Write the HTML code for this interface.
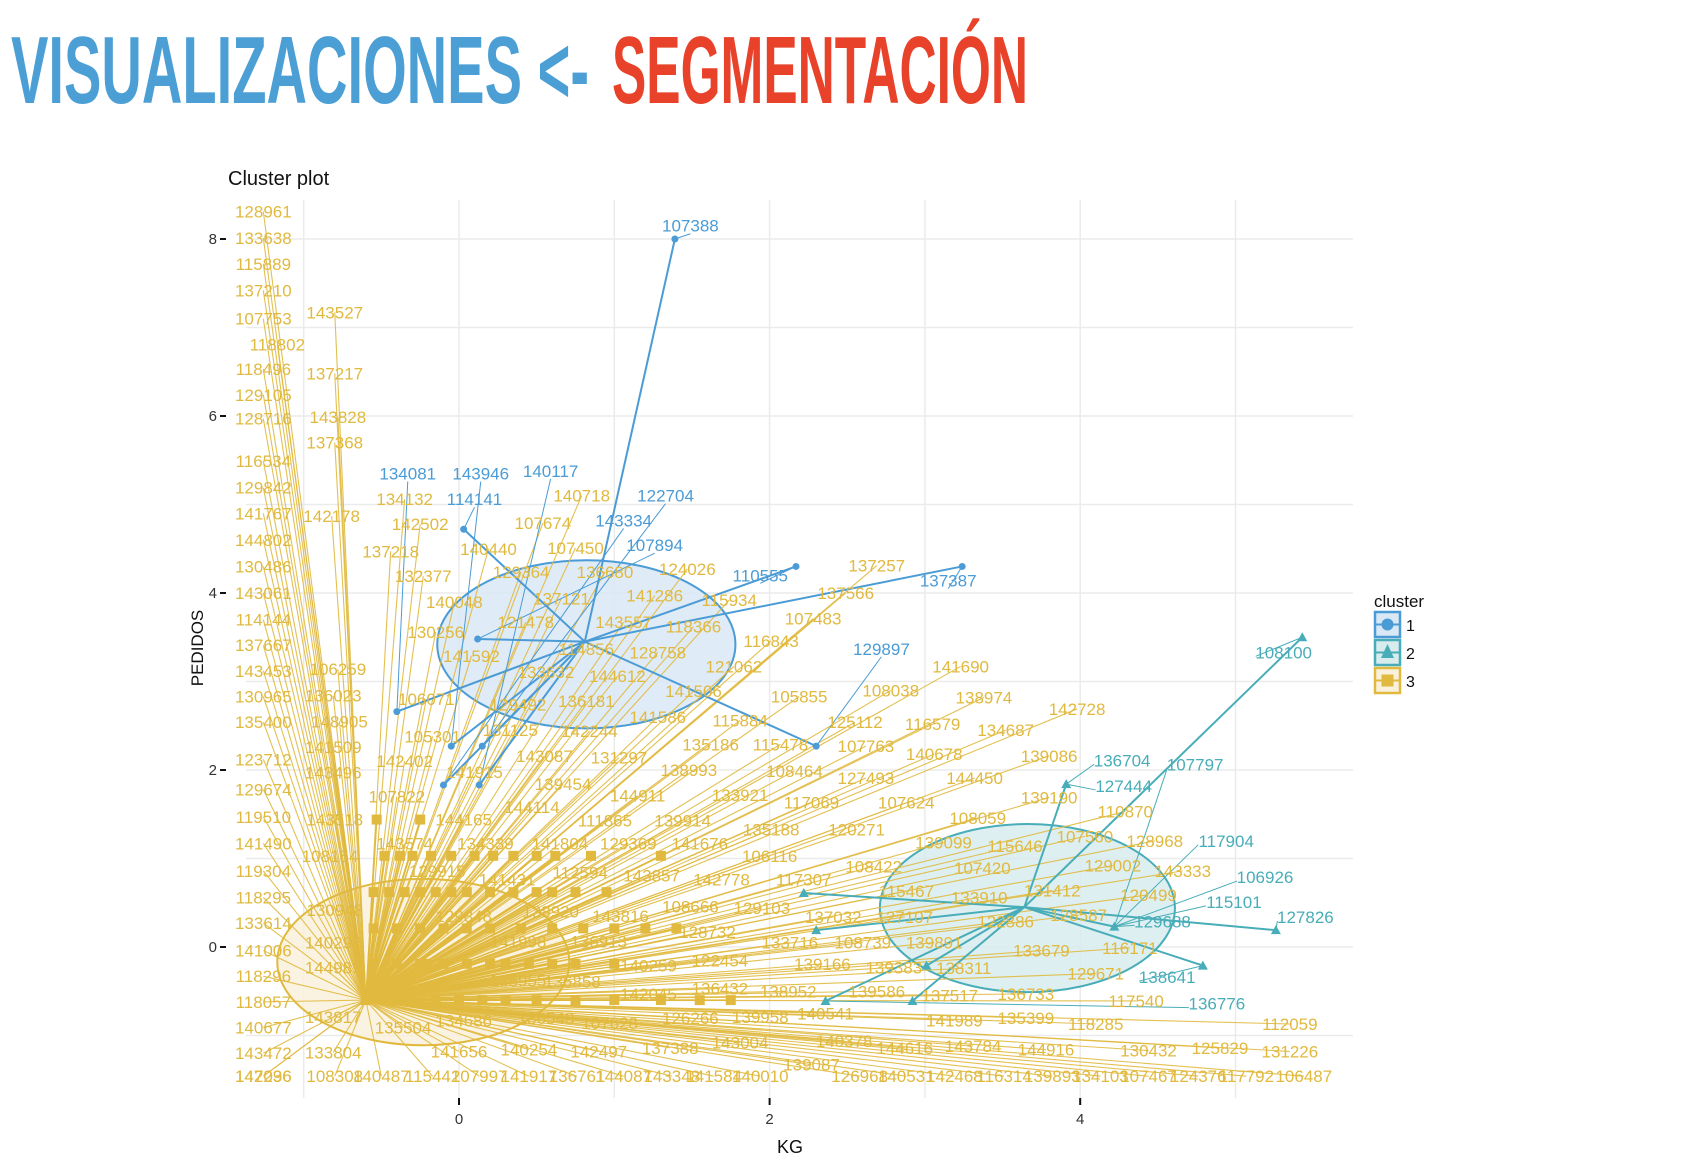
<!DOCTYPE html>
<html><head><meta charset="utf-8"><style>
html,body{margin:0;padding:0;background:#fff;}
svg{display:block;}
text{font-family:"Liberation Sans",sans-serif;}
</style></head><body>
<svg id="chart" width="1684" height="1168" viewBox="0 0 1684 1168" xmlns="http://www.w3.org/2000/svg">
<text x="11" y="103" font-family="'Liberation Sans Narrow','Liberation Sans',sans-serif" font-weight="bold" font-size="96" fill="#4B9FD5" textLength="578" lengthAdjust="spacingAndGlyphs">VISUALIZACIONES &lt;-</text>
<text x="612" y="103" font-family="'Liberation Sans Narrow','Liberation Sans',sans-serif" font-weight="bold" font-size="96" fill="#E8432A" textLength="416" lengthAdjust="spacingAndGlyphs">SEGMENTACIÓN</text>
<text x="228" y="185" font-size="20" fill="#111">Cluster plot</text>
<g id="grid"></g>
<g id="ellipses"></g>
<g id="segs"></g>
<g id="pts"></g>
<g id="labs"></g>
<g id="axes"></g>
<text x="790" y="1153" font-size="18" text-anchor="middle" fill="#111">KG</text>
<text x="203" y="648" font-size="17" text-anchor="middle" fill="#111" transform="rotate(-90 203 648)">PEDIDOS</text>
<g>
<text x="1374" y="607" font-size="17" fill="#111">cluster</text>
<g>
<rect x="1375" y="612" width="25" height="25" fill="#D9E8F5" stroke="#4A9BD6" stroke-width="2.5"/><line x1="1375" y1="624.5" x2="1400" y2="624.5" stroke="#4A9BD6" stroke-width="2"/><circle cx="1387.5" cy="624.5" r="6" fill="#4A9BD6"/><text x="1406" y="631" font-size="16" fill="#111">1</text></g>
<g>
<rect x="1375" y="640" width="25" height="25" fill="#D8ECEE" stroke="#48ADB8" stroke-width="2.5"/><line x1="1375" y1="652.5" x2="1400" y2="652.5" stroke="#48ADB8" stroke-width="2"/><polygon points="1387.5,644 1394,658 1381,658" fill="#48ADB8"/><text x="1406" y="659" font-size="16" fill="#111">2</text></g>
<g>
<rect x="1375" y="668" width="25" height="25" fill="#FAF1DC" stroke="#E0B93E" stroke-width="2.5"/><line x1="1375" y1="680.5" x2="1400" y2="680.5" stroke="#E0B93E" stroke-width="2"/><rect x="1381.5" y="674.5" width="12" height="12" fill="#E0B93E"/><text x="1406" y="687" font-size="16" fill="#111">3</text></g>
</g>
</svg>
<script>
// ---------- data ----------
const xTicks = [0, 2, 4];
const yTicks = [0, 2, 4, 6, 8];
const xGrid = [-1, 0, 1, 2, 3, 4, 5];
const yGrid = [-1, 0, 1, 2, 3, 4, 5, 6, 7, 8];

// cluster centers / ellipse radii (data units)
const ellCx = [0.82, 3.66, -0.23];
const ellCy = [3.42, 0.44, -0.17];
const ellRx = [0.96, 0.95, 0.94];
const ellRy = [0.95, 0.95, 0.94];

// cluster 1 (blue) points
const c1X = [1.39, 0.03, 0.12, -0.40, -0.05, 0.15, -0.10, 0.13, 2.17, 3.24, 2.30];
const c1Y = [8.00, 4.72, 3.48, 2.66, 2.27, 2.27, 1.83, 1.83, 4.30, 4.30, 2.27];
const c1Cx = 0.81, c1Cy = 3.45;
const c1Lab = ["107388","134081","143946","140117","114141","122704","143334","107894","110555","137387","129897"];
const c1Lx = [1.49,-0.33,0.14,0.59,0.10,1.33,1.06,1.26,1.94,3.15,2.72];
const c1Ly = [8.15,5.35,5.35,5.38,5.06,5.10,4.82,4.54,4.20,4.14,3.37];
const c1Lp = [0,3,4,7,1,5,6,2,8,9,10];

// cluster 2 (teal) points
const c2X = [5.43, 3.91, 2.22, 2.30, 2.36, 2.92, 3.01, 4.22, 4.79, 5.26];
const c2Y = [3.50, 1.84, 0.61, 0.19, -0.61, -0.61, -0.21, 0.23, -0.21, 0.19];
const c2Cx = 3.64, c2Cy = 0.45;
const c2Lab = ["108100","136704","107797","127444","117904","106926","115101","127826","129688","138641","136776"];
const c2Lx = [5.31,4.27,4.74,4.28,4.94,5.19,4.99,5.45,4.53,4.56,4.88];
const c2Ly = [3.33,2.11,2.06,1.82,1.20,0.79,0.51,0.34,0.29,-0.34,-0.64];
const c2Lp = [0,1,7,1,7,7,7,9,7,8,4];

// cluster 3 (yellow) square points
const c3X = [-0.60,-0.21,-0.53,-0.25,-0.48,-0.38,-0.30,-0.18,-0.05,0.10,0.22,0.35,0.50,0.62,0.85,1.30,
 -0.55,-0.45,-0.35,-0.25,-0.15,-0.05,0.05,0.20,0.35,0.50,0.60,0.75,0.95,
 -0.55,-0.40,-0.25,-0.10,0.05,0.20,0.40,0.60,0.80,1.00,1.20,1.40,
 -0.55,-0.40,-0.25,-0.10,0.05,0.20,0.30,0.45,0.60,0.75,1.00,
 -0.45,-0.30,-0.15,0.00,0.15,0.30,0.50,0.75,1.00,1.30,1.55,1.75];
const c3Y = [-0.60,-0.19,1.44,1.44,1.03,1.03,1.03,1.03,1.03,1.03,1.03,1.03,1.03,1.03,1.03,1.03,
 0.62,0.62,0.62,0.62,0.62,0.62,0.62,0.62,0.62,0.62,0.62,0.62,0.62,
 0.21,0.21,0.21,0.21,0.21,0.21,0.21,0.21,0.21,0.21,0.21,0.21,
 -0.19,-0.19,-0.19,-0.19,-0.19,-0.19,-0.19,-0.19,-0.19,-0.19,-0.19,
 -0.60,-0.60,-0.60,-0.60,-0.60,-0.60,-0.60,-0.60,-0.60,-0.60,-0.60,-0.60];

// cluster 3 labels
const c3Lab = ["128961","133638","115889","137210","107753","118802","118496","129105","128716","116534","129842","141767","144802","130486","143061","114144","137667","143453","130965","135400","123712","129674","119510","141490","119304","118295","133614","141006","118296","118057","140677","143472","142036","147296",
"143527","137217","143828","137368","142178","137218","132377","142502","106259","136023","148905","141509","143496","142402","107822","143518","108154","130948","140292","144989","143817","133804","135504","143574","129915","144165","134339","141804","129369","141676","141431","112594","143857","106116","142778","117307","108422","108666","129103","143816","138920","129848","128732","141998","136913","140259","122454","139166","139383","138311","136733","129671","117540","133716","108739","139891","133679","116171","137032","127107","122886","128587","115467","133910","131412","129002","120499","143333","128968","107560","115646","139099","107420","108059","110870","139190","139086","144450","107624","120271","135188","117069","127493","107763","140678","134687","142728","138974","116579","125112","108038","141690","105855","115478","108464","115884","135186","138993","133921","139914","111865","144911","144114","139454","131297","143087","131125","142244","105301","141915","106071","129492","136181","141586","141506","121062","116843","107483","137566","137257","144612","128758","133632","141592","130256","121478","143557","118366","141286","115934","137121","140048","129364","136680","124026","140440","107450","107674","140718","114856","134132",
"108308","140487","115442","107997","141917","136761","144087","143348","141584","140010","126968","140531","142468","116314","139893","134103","107467","124376","117792","106487",
"134686","136548","107628","126266","139958","140541","141989","135399","118285","112059","130432","125829","131226","144916","143784","144616","140378","139087","143004","137388","142497","140254","141656","136432","138952","139586","137517","142045","135955","136858"];
const c3Lx = [-1.26,-1.26,-1.26,-1.26,-1.26,-1.17,-1.26,-1.26,-1.26,-1.26,-1.26,-1.26,-1.26,-1.26,-1.26,-1.26,-1.26,-1.26,-1.26,-1.26,-1.26,-1.26,-1.26,-1.26,-1.26,-1.26,-1.26,-1.26,-1.26,-1.26,-1.26,-1.26,-1.26,-1.26,
-0.80,-0.80,-0.78,-0.80,-0.82,-0.44,-0.23,-0.25,-0.78,-0.81,-0.77,-0.81,-0.81,-0.35,-0.40,-0.80,-0.83,-0.80,-0.81,-0.81,-0.81,-0.81,-0.36,-0.35,-0.14,0.03,0.17,0.65,1.09,1.55,0.31,0.78,1.24,2.00,1.69,2.22,2.67,1.49,1.95,1.04,0.59,0.03,1.60,0.38,0.90,1.22,1.68,2.34,2.80,3.25,3.65,4.10,4.36,2.13,2.60,3.06,3.75,4.32,2.41,2.87,3.52,3.99,2.88,3.35,3.82,4.21,4.44,4.66,4.48,4.03,3.58,3.12,3.37,3.34,4.29,3.80,3.80,3.32,2.88,2.56,2.01,2.27,2.62,2.62,3.06,3.52,3.98,3.38,3.05,2.55,2.78,3.23,2.19,2.07,2.16,1.81,1.62,1.48,1.81,1.44,0.94,1.15,0.47,0.67,1.03,0.55,0.33,0.84,-0.17,0.10,-0.21,0.38,0.82,1.28,1.51,1.77,2.01,2.28,2.49,2.69,1.02,1.28,0.56,0.08,-0.15,0.43,1.06,1.51,1.26,1.74,0.66,-0.03,0.40,0.94,1.47,0.19,0.75,0.54,0.79,0.82,-0.35,
-0.80,-0.50,-0.17,0.13,0.45,0.76,1.06,1.37,1.64,1.94,2.58,2.88,3.19,3.51,3.82,4.13,4.44,4.76,5.07,5.44,
0.03,0.56,0.97,1.49,1.94,2.36,3.19,3.65,4.10,5.35,4.44,4.90,5.35,3.78,3.31,2.87,2.48,2.27,1.81,1.36,0.90,0.45,0.00,1.68,2.12,2.69,3.16,1.22,0.38,0.73];
const c3Ly = [8.31,8.01,7.72,7.42,7.10,6.81,6.53,6.24,5.97,5.49,5.19,4.90,4.60,4.30,4.00,3.70,3.41,3.12,2.83,2.54,2.12,1.78,1.47,1.17,0.86,0.56,0.27,-0.04,-0.33,-0.62,-0.91,-1.20,-1.46,-1.46,
7.17,6.48,5.99,5.70,4.87,4.47,4.19,4.78,3.14,2.84,2.55,2.26,1.97,2.10,1.70,1.44,1.03,0.42,0.05,-0.23,-0.79,-1.19,-0.91,1.17,0.86,1.44,1.17,1.17,1.17,1.17,0.76,0.84,0.81,1.03,0.76,0.76,0.91,0.46,0.44,0.35,0.40,0.35,0.17,0.06,0.06,-0.21,-0.15,-0.19,-0.23,-0.24,-0.53,-0.30,-0.61,0.05,0.05,0.05,-0.04,-0.01,0.34,0.34,0.29,0.36,0.63,0.56,0.64,0.92,0.59,0.86,1.20,1.25,1.14,1.18,0.89,1.46,1.53,1.69,2.16,1.91,1.63,1.33,1.33,1.63,1.91,2.27,2.18,2.45,2.69,2.82,2.52,2.54,2.90,3.17,2.83,2.29,1.99,2.56,2.29,2.00,1.72,1.43,1.43,1.71,1.58,1.84,2.14,2.16,2.45,2.44,2.38,1.98,2.80,2.74,2.78,2.60,2.89,3.17,3.46,3.71,4.00,4.31,3.06,3.33,3.11,3.29,3.56,3.67,3.67,3.62,3.97,3.92,3.94,3.90,4.24,4.24,4.27,4.50,4.51,4.79,5.10,3.37,5.06,
-1.46,-1.46,-1.46,-1.46,-1.46,-1.46,-1.46,-1.46,-1.46,-1.46,-1.46,-1.46,-1.46,-1.46,-1.46,-1.46,-1.46,-1.46,-1.46,-1.46,
-0.83,-0.80,-0.86,-0.80,-0.79,-0.75,-0.83,-0.80,-0.87,-0.87,-1.17,-1.14,-1.18,-1.16,-1.12,-1.14,-1.06,-1.33,-1.08,-1.14,-1.18,-1.16,-1.18,-0.47,-0.50,-0.50,-0.55,-0.53,-0.38,-0.39];

// ---------- scales ----------
const X0 = 459, XU = 155.3, Y0 = 947, YU = 88.5;
const PL = 246, PR = 1353, PT = 200, PB = 1098;
function sx(v){ return X0 + XU * v; }
function sy(v){ return Y0 - YU * v; }
const NS = "http://www.w3.org/2000/svg";
function mk(parent, tag, attrs){
  const e = document.createElementNS(NS, tag);
  for (const k in attrs) e.setAttribute(k, attrs[k]);
  parent.appendChild(e);
  return e;
}
const gGrid = document.getElementById('grid');
const gEll = document.getElementById('ellipses');
const gSeg = document.getElementById('segs');
const gPts = document.getElementById('pts');
const gLab = document.getElementById('labs');
const gAx = document.getElementById('axes');

// grid
xGrid.forEach(v => {
  const l = mk(gGrid, 'line', {x1: sx(v), x2: sx(v), y1: PT, y2: PB, stroke: '#EBEBEB', 'stroke-width': 1.5});
  
  
});
yGrid.forEach(v => {
  const l = mk(gGrid, 'line', {x1: PL, x2: PR, y1: sy(v), y2: sy(v), stroke: '#EBEBEB', 'stroke-width': 1.5});
  
  
});

// ellipses
const ellFill = ['#D9E8F5', '#D8ECEE', '#FAF1DC'];
const ellStroke = ['#4A9BD6', '#48ADB8', '#E0B93E'];
for (let i = 0; i < 3; i++) {
  const e = mk(gEll, 'ellipse', {cx: sx(ellCx[i]), cy: sy(ellCy[i]), rx: XU * ellRx[i], ry: YU * ellRy[i], fill: ellFill[i], 'fill-opacity': 0.85, stroke: ellStroke[i], 'stroke-width': 2});
  
  
}

const YEL = '#E0B93E', BLU = '#4A9BD6', TEA = '#48ADB8';

// cluster 3 segments (label -> hub) and squares
c3Lab.forEach((t, i) => {
  const s = mk(gSeg, 'line', {x1: sx(c3Lx[i]), y1: sy(c3Ly[i]), x2: sx(c3X[0]), y2: sy(c3Y[0]), stroke: YEL, 'stroke-width': 1.1, 'stroke-opacity': 0.9});
  
  
});
c3X.forEach((v, i) => {
  const r = mk(gPts, 'rect', {x: sx(v) - 5, y: sy(c3Y[i]) - 5, width: 10, height: 10, fill: YEL});
  
  
  const s = mk(gSeg, 'line', {x1: sx(v), y1: sy(c3Y[i]), x2: sx(c3X[0]), y2: sy(c3Y[0]), stroke: YEL, 'stroke-width': 1.5});
  
  
});
c3Lab.forEach((t, i) => {
  const tx = mk(gLab, 'text', {x: sx(c3Lx[i]), y: sy(c3Ly[i]) + 6, 'font-size': 17, fill: YEL, 'text-anchor': 'middle'});
  tx.textContent = t;
  
  
});

// cluster 1
c1X.forEach((v, i) => {
  const s = mk(gSeg, 'line', {x1: sx(c1Cx), y1: sy(c1Cy), x2: sx(v), y2: sy(c1Y[i]), stroke: BLU, 'stroke-width': 2});
  
  
  const c = mk(gPts, 'circle', {cx: sx(v), cy: sy(c1Y[i]), r: 3.5, fill: BLU});
  
  
});
c1Lab.forEach((t, i) => {
  const p = c1Lp[i];
  const s = mk(gSeg, 'line', {x1: sx(c1Lx[i]), y1: sy(c1Ly[i]) + 8, x2: sx(c1X[p]), y2: sy(c1Y[p]), stroke: BLU, 'stroke-width': 1});
  
  
  const tx = mk(gLab, 'text', {x: sx(c1Lx[i]), y: sy(c1Ly[i]) + 6, 'font-size': 17, fill: BLU, 'text-anchor': 'middle'});
  tx.textContent = t;
  
  
});

// cluster 2
c2X.forEach((v, i) => {
  const s = mk(gSeg, 'line', {x1: sx(c2Cx), y1: sy(c2Cy), x2: sx(v), y2: sy(c2Y[i]), stroke: TEA, 'stroke-width': 2});
  
  
  const px = sx(v), py = sy(c2Y[i]);
  const tr = mk(gPts, 'polygon', {points: `${px},${py - 5} ${px + 5},${py + 4} ${px - 5},${py + 4}`, fill: TEA});
  
  
});
c2Lab.forEach((t, i) => {
  const p = c2Lp[i];
  const s = mk(gSeg, 'line', {x1: sx(c2Lx[i]) - 28, y1: sy(c2Ly[i]) + 4, x2: sx(c2X[p]), y2: sy(c2Y[p]), stroke: TEA, 'stroke-width': 1});
  
  
  const tx = mk(gLab, 'text', {x: sx(c2Lx[i]), y: sy(c2Ly[i]) + 6, 'font-size': 17, fill: TEA, 'text-anchor': 'middle'});
  tx.textContent = t;
  
  
});

// axes ticks
xTicks.forEach(v => {
  const l = mk(gAx, 'line', {x1: sx(v), x2: sx(v), y1: PB, y2: PB + 7, stroke: '#111', 'stroke-width': 2});
  
  
  const t = mk(gAx, 'text', {x: sx(v), y: PB + 26, 'font-size': 15, 'text-anchor': 'middle', fill: '#333'});
  t.textContent = v;
  
  
});
yTicks.forEach(v => {
  const l = mk(gAx, 'line', {x1: PL - 26, x2: PL - 20, y1: sy(v), y2: sy(v), stroke: '#111', 'stroke-width': 2});
  
  
  const t = mk(gAx, 'text', {x: PL - 29, y: sy(v) + 5, 'font-size': 15, 'text-anchor': 'end', fill: '#333'});
  t.textContent = v;
  
  
});
</script>
</body></html>
